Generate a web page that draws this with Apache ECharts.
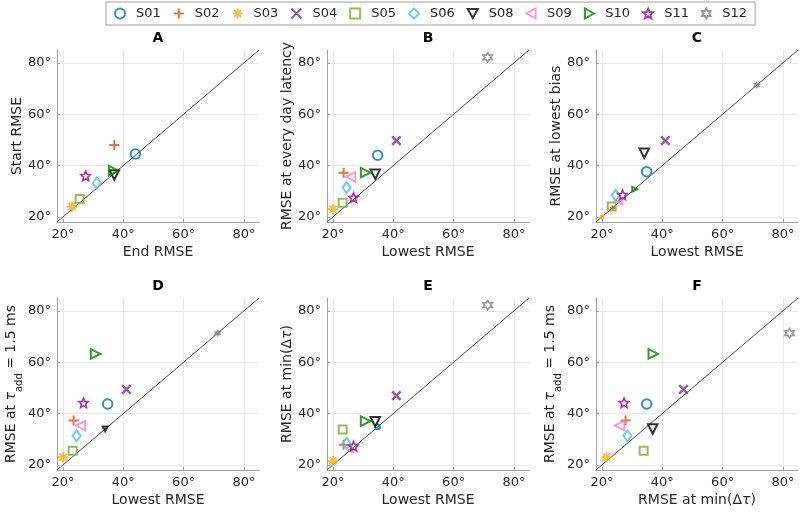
<!DOCTYPE html>
<html>
<head>
<meta charset="utf-8">
<script src="https://cdn.jsdelivr.net/npm/echarts@6/dist/echarts.min.js"></script>
<style>
  html, body { margin: 0; background: #fff; }
  #chart { width: 800px; height: 512px; }
</style>
</head>
<body>
<div id="chart"></div>
<script>
// subjects and per-condition RMSE values (degrees)
const subjects   = ['S01', 'S02', 'S03', 'S04', 'S05', 'S06', 'S08', 'S09', 'S10', 'S11', 'S12'];
const endRmse    = [44, 37, 23, null, 25.5, 31.2, 37, null, 36.8, 27.5, null];
const startRmse  = [44.5, 48, 24, null, 27, 33.2, 36.3, null, 38, 36, null];
const lowestRmse = [34.8, 23.5, 20, 41, 23.2, 24.5, 34, 25.8, 30.8, 26.8, 71.3];
const everyDay   = [44, 37.2, 23, 49.7, 25.5, 31.4, 36.6, 35.6, 37.2, 27.5, 82.1];
const lowestBias = [37.6, 23.5, 20, 49.7, 24, 28.4, 44.8, 25.8, 30.8, 28.6, 71.3];
const tauAdd     = [43.7, 37.3, 23, 49.4, 25.5, 31.3, 34, 35.3, 63.2, 44.2, 71.3];
const minDtau    = [34.8, 27.8, 21.5, 47, 33.8, 28.4, 36.8, 25.8, 37, 27.3, 82.2];
const tickValues = [20, 40, 60, 80];
const axisMin = 18, axisMax = 85;

const FONT = 'DejaVu Sans';

// MATLAB-like markers
const markers = {
  S01: { symbol: 'circle', size: 9.5, color: '#0072BD', lw: 2 },
  S02: { symbol: 'path://M0,-5L0,5M-5,0L5,0', size: 10, color: '#D95319', lw: 2 },
  S03: { symbol: 'path://M0,-5L0,5M-5,0L5,0M-3.5,-3.5L3.5,3.5M-3.5,3.5L3.5,-3.5', size: 10, color: '#EDB120', lw: 2.2 },
  S04: { symbol: 'path://M-5,-5L5,5M-5,5L5,-5', size: 8.5, color: '#7E2F8E', lw: 2.4 },
  S05: { symbol: 'rect', size: 8, color: '#77AC30', lw: 2 },
  S06: { symbol: 'diamond', size: [8, 11], color: '#4DBEEE', lw: 2 },
  S08: { symbol: 'path://M-5,-4L5,-4L0,5Z', size: 9.5, color: '#000000', lw: 2 },
  S09: { symbol: 'path://M5,-5L5,5L-4,0Z', size: 9.5, color: '#FF80CC', lw: 2 },
  S10: { symbol: 'path://M-4,-5L-4,5L5,0Z', size: 9.5, color: '#008000', lw: 2 },
  S11: { symbol: 'path://M0,-5L1.35,-1.86L4.755,-1.545L2.18,0.71L2.939,4.045L0,2.3L-2.939,4.045L-2.18,0.71L-4.755,-1.545L-1.35,-1.86Z', size: 9.5, color: '#990099', lw: 1.6 },
  S12: { symbol: 'path://M0,-5L1.443,-2.5L4.33,-2.5L2.887,0L4.33,2.5L1.443,2.5L0,5L-1.443,2.5L-4.33,2.5L-2.887,0L-4.33,-2.5L-1.443,-2.5Z', size: 9, color: '#808080', lw: 1.8 }
};

const panels = [
  { title: 'A', x: endRmse, y: startRmse, xName: 'End RMSE', yName: 'Start RMSE', left: 57, top: 50 },
  { title: 'B', x: lowestRmse, y: everyDay, xName: 'Lowest RMSE', yName: 'RMSE at every day latency', left: 327, top: 50 },
  { title: 'C', x: lowestRmse, y: lowestBias, xName: 'Lowest RMSE', yName: 'RMSE at lowest bias', left: 596, top: 50 },
  { title: 'D', x: lowestRmse, y: tauAdd, xName: 'Lowest RMSE', yName: 'RMSE at {it|τ}{sub|add} = 1.5 ms', left: 57, top: 298 },
  { title: 'E', x: lowestRmse, y: minDtau, xName: 'Lowest RMSE', yName: 'RMSE at min(Δ{it|τ})', left: 327, top: 298 },
  { title: 'F', x: minDtau, y: tauAdd, xName: 'RMSE at min(Δ{it|τ})', yName: 'RMSE at {it|τ}{sub|add} = 1.5 ms', left: 596, top: 298 }
];
const W = 202, H = 172;

const nameRich = {
  it: { fontStyle: 'italic', fontSize: 14, fontFamily: FONT, color: '#262626' },
  sub: { fontSize: 10, fontFamily: FONT, color: '#262626', verticalAlign: 'bottom', padding: [0, 0, -6, 0] }
};

const axisCommon = (i) => ({
  gridIndex: i,
  type: 'value',
  min: axisMin,
  max: axisMax,
  splitNumber: 3,
  nameLocation: 'middle',
  nameTextStyle: { fontSize: 14, fontFamily: FONT, color: '#262626', rich: nameRich },
  axisLine: { show: true, onZero: false, lineStyle: { color: '#a0a0a0', width: 1 } },
  axisTick: { show: true, inside: true, length: 3, customValues: tickValues, lineStyle: { color: '#a0a0a0' } },
  axisLabel: {
    formatter: '{value}°', customValues: tickValues,
    fontSize: 13, fontFamily: FONT, color: '#262626', margin: 6
  },
  splitLine: { show: true, lineStyle: { color: '#e8e8e8', width: 1 } }
});

const grids = [], xAxes = [], yAxes = [], series = [], graphics = [];
panels.forEach((p, i) => {
  grids.push({ left: p.left, top: p.top, width: W, height: H });
  xAxes.push(Object.assign(axisCommon(i), { name: p.xName, nameGap: 23 }));
  yAxes.push(Object.assign(axisCommon(i), { name: p.yName, nameGap: 33 }));
  graphics.push({
    type: 'text', x: p.left + W / 2, y: p.top - 12,
    style: { text: p.title, font: 'bold 14px ' + FONT, fill: '#000', align: 'center', verticalAlign: 'middle' }
  });
  // identity line
  series.push({
    type: 'line', xAxisIndex: i, yAxisIndex: i, silent: true, symbol: 'none', z: 1,
    data: [[axisMin, axisMin], [axisMax, axisMax]],
    lineStyle: { color: '#333333', width: 0.9 }
  });
  subjects.forEach((s, k) => {
    const m = markers[s];
    const pts = (p.x[k] == null || p.y[k] == null) ? [] : [[p.x[k], p.y[k]]];
    series.push({
      type: 'scatter', name: s, xAxisIndex: i, yAxisIndex: i, z: 3,
      symbol: m.symbol,
      symbolSize: (v) => {
        const onDiag = v[0] === v[1];
        if (Array.isArray(m.size)) return onDiag ? [m.size[0] * 0.5, m.size[1] * 0.5] : m.size;
        return onDiag ? m.size * 0.5 : m.size;
      },
      itemStyle: { color: 'rgba(0,0,0,0)', borderColor: m.color, borderWidth: m.lw },
      emphasis: { disabled: true },
      data: pts
    });
  });
});

const chart = echarts.init(document.getElementById('chart'));
chart.setOption({
  animation: false,
  backgroundColor: '#fff',
  legend: {
    data: subjects,
    top: 2, left: 106,
    itemWidth: 10, itemHeight: 10, itemGap: 12,
    padding: [5, 8],
    borderColor: '#a0a0a0', borderWidth: 1, backgroundColor: '#fff',
    textStyle: { fontSize: 13, fontFamily: FONT, color: '#262626', padding: [0, 0, 0, 6] }
  },
  grid: grids,
  xAxis: xAxes,
  yAxis: yAxes,
  series: series,
  graphic: graphics
});
</script>
</body>
</html>
